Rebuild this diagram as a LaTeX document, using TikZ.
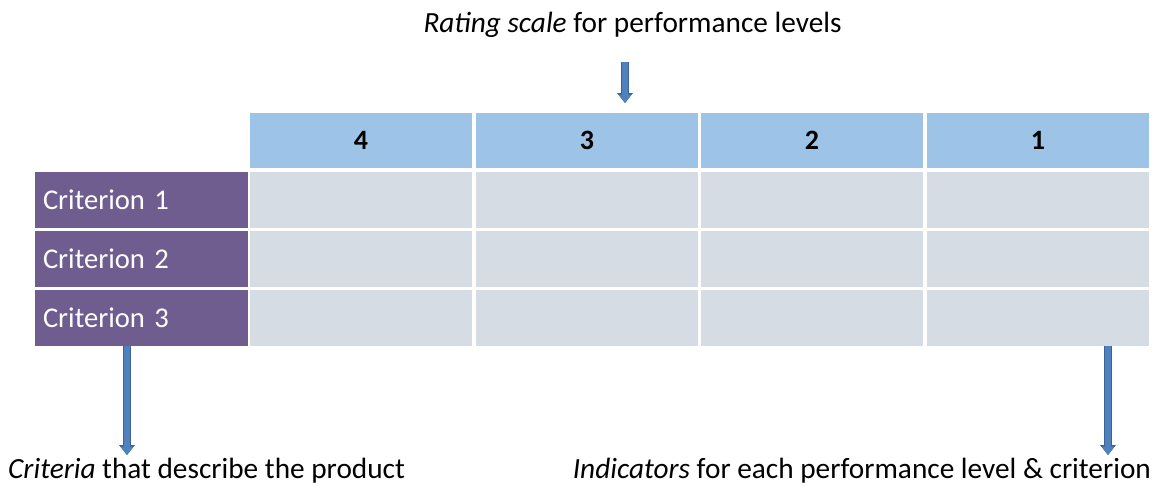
\documentclass[tikz,border=0pt]{standalone}
\usepackage{fontspec}
\setmainfont{Carlito}
\usetikzlibrary{arrows.meta}
\definecolor{hdr}{HTML}{9DC3E6}
\definecolor{cellg}{HTML}{D6DCE4}
\definecolor{purp}{HTML}{705D90}
\definecolor{arrf}{HTML}{4F81BD}
\definecolor{arrd}{HTML}{3A6396}
\begin{document}
\begin{tikzpicture}[x=1pt,y=-1pt,
  every node/.style={font=\fontsize{28}{32}\selectfont},
  hcell/.style={anchor=north west, inner sep=0pt, outer sep=0pt, fill=hdr,
    minimum width=222pt, minimum height=55pt, font=\fontsize{28}{32}\selectfont\bfseries},
  gcell/.style={anchor=north west, inner sep=0pt, outer sep=0pt, fill=cellg,
    minimum width=222pt, minimum height=55.5pt},
  pcell/.style={anchor=north west, outer sep=0pt, inner xsep=8pt, inner ysep=0pt, fill=purp,
    text=white, text width=197pt, align=left, minimum height=55.5pt,
    font=\fontsize{28.6}{32}\selectfont},
  caption/.style={inner sep=0pt, anchor=base, font=\fontsize{29.3}{33}\selectfont},
  bigarrow/.style={preaction={draw=arrd, line width=8pt, -{Triangle[width=16pt,length=10pt,line width=0pt]}},
    draw=arrf, line width=6pt, -{Triangle[width=13pt,length=8.5pt,line width=0pt]}}
]
\fill[white] (0,0) rectangle (1157,485);
% header
\node[hcell] (h4) at (250,113) {4};
\node[hcell] (h3) at (476,113) {3};
\node[hcell] (h2) at (701,113) {2};
\node[hcell] (h1) at (927,113) {1};
% criteria
\node[pcell] (c1) at (35,172) {Criterion 1};
\node[pcell] (c2) at (35,231) {Criterion 2};
\node[pcell] (c3) at (35,290) {Criterion 3};
% grey cells
\foreach \r/\y in {1/172,2/231,3/290}{
  \node[gcell] (g\r a) at (250,\y) {};
  \node[gcell] (g\r b) at (476,\y) {};
  \node[gcell] (g\r c) at (701,\y) {};
  \node[gcell] (g\r d) at (927,\y) {};
}
% captions
\node[caption] (title) at (632.5,32) {\textit{Rating scale} for performance levels};
\node[caption, anchor=base west] (crit) at (8,478) {\textit{Criteria} that describe the product};
\node[caption, anchor=base east] (ind) at (1151,478) {\textit{Indicators} for each performance level \& criterion};
% arrows
\coordinate (ta) at (625,62);
\coordinate (la) at (127,455);
\coordinate (ra) at (1108,455);
\draw[bigarrow] (ta) -- ([yshift=10pt]ta |- h3.north);
\draw[bigarrow] (la |- c3.south) -- (la);
\draw[bigarrow] (ra |- g3d.south) -- (ra);
\end{tikzpicture}
\end{document}
